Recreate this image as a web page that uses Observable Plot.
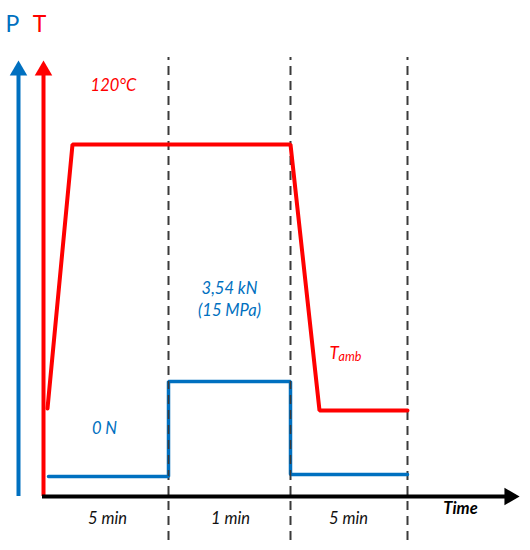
<!DOCTYPE html>
<html>
<head>
<meta charset="utf-8">
<script src="https://cdn.jsdelivr.net/npm/d3@7"></script>
<script src="https://cdn.jsdelivr.net/npm/@observablehq/plot@0.6"></script>
<style>
  html, body { margin: 0; padding: 0; background: #fff; }
  svg { display: block; }
</style>
</head>
<body>
<div id="chart"></div>
<script>
// Schematic units: x = time (arbitrary units), y = level (arbitrary units)
const phaseBoundaries = [126, 248, 365];
const phaseLabels = [
  {x: 65, label: "5 min"},
  {x: 188, label: "1 min"},
  {x: 306, label: "5 min"}
];
const temperature = [
  {t: 5, v: 88},
  {t: 30, v: 352},
  {t: 248, v: 352},
  {t: 277, v: 86},
  {t: 365, v: 86}
];
const pressure = [
  {t: 6, v: 20},
  {t: 126, v: 20},
  {t: 126, v: 115},
  {t: 248, v: 115},
  {t: 248, v: 22},
  {t: 365, v: 22}
];
const axisTop = 433;
const timeEnd = 475;
const RED = "#ff0000";
const BLUE = "#0070c0";
const DASH = "#3a3a3a";
const FONT = "Lato, 'Open Sans', sans-serif";

const chart = Plot.plot({
  width: 530,
  height: 550,
  margin: 0,
  style: {background: "#fff", fontFamily: FONT},
  x: {domain: [0, 475], range: [42, 517], axis: null},
  y: {domain: [0, 440], range: [496, 56], axis: null},
  marks: [
    // dashed phase boundaries
    Plot.ruleX(phaseBoundaries, {x: d => d, y1: -44, y2: 439, stroke: DASH, strokeWidth: 2, strokeDasharray: "9,6"}),
    // pressure axis (blue)
    Plot.ruleX([-24], {x: d => d, y1: 0, y2: axisTop - 10, stroke: BLUE, strokeWidth: 4}),
    Plot.dot([{x: -24, y: axisTop - 7}], {x: "x", y: "y", symbol: "triangle", r: 6.5, fill: BLUE, stroke: null}),
    // temperature axis (red)
    Plot.ruleX([1], {x: d => d, y1: 0, y2: axisTop - 10, stroke: RED, strokeWidth: 4}),
    Plot.dot([{x: 1, y: axisTop - 7}], {x: "x", y: "y", symbol: "triangle", r: 6.5, fill: RED, stroke: null}),
    // time axis (black)
    Plot.ruleY([0], {y: d => d, x1: 0, x2: timeEnd - 10, stroke: "#000", strokeWidth: 4}),
    Plot.dot([{x: timeEnd - 8, y: 0}], {x: "x", y: "y", symbol: "triangle", r: 6.5, fill: "#000", stroke: null, rotate: 90}),
    // series
    Plot.line(pressure, {x: "t", y: "v", stroke: BLUE, strokeWidth: 3.5, strokeLinejoin: "miter"}),
    Plot.line(temperature, {x: "t", y: "v", stroke: RED, strokeWidth: 4, strokeLinejoin: "miter"}),
    // dashes over blue risers
    Plot.ruleX(phaseBoundaries.slice(0, 2), {x: d => d, y1: 20, y2: 115, stroke: DASH, strokeWidth: 1.6, strokeDasharray: "9,6", strokeDashoffset: 3}),
    // axis letters
    Plot.text([{x: -30, y: 472, s: "P"}], {x: "x", y: "y", text: "s", fill: BLUE, fontSize: 23}),
    Plot.text([{x: -3, y: 472, s: "T"}], {x: "x", y: "y", text: "s", fill: RED, fontSize: 23}),
    // annotations
    Plot.text([{x: 71, y: 411, s: "120°C"}], {x: "x", y: "y", text: "s", fill: RED, fontSize: 16.5, fontStyle: "italic"}),
    Plot.text([{x: 187, y: 208, s: "3,54 kN"}, {x: 187, y: 186, s: "(15 MPa)"}], {x: "x", y: "y", text: "s", fill: BLUE, fontSize: 16.5, fontStyle: "italic"}),
    Plot.text([{x: 62, y: 68, s: "0 N"}], {x: "x", y: "y", text: "s", fill: BLUE, fontSize: 16.5, fontStyle: "italic"}),
    Plot.text([{x: 287, y: 143, s: "T"}], {x: "x", y: "y", text: "s", fill: RED, fontSize: 17, fontStyle: "italic", textAnchor: "start"}),
    Plot.text([{x: 296, y: 140, s: "amb"}], {x: "x", y: "y", text: "s", fill: RED, fontSize: 12.5, fontStyle: "italic", textAnchor: "start"}),
    Plot.text(phaseLabels, {x: "x", y: -22, text: "label", fill: "#111", fontSize: 16.5, fontStyle: "italic"}),
    Plot.text([{x: 418, y: -12, s: "Time"}], {x: "x", y: "y", text: "s", fill: "#000", fontSize: 16.5, fontStyle: "italic", fontWeight: "bold"})
  ]
});
document.getElementById("chart").appendChild(chart);
</script>
</body>
</html>
